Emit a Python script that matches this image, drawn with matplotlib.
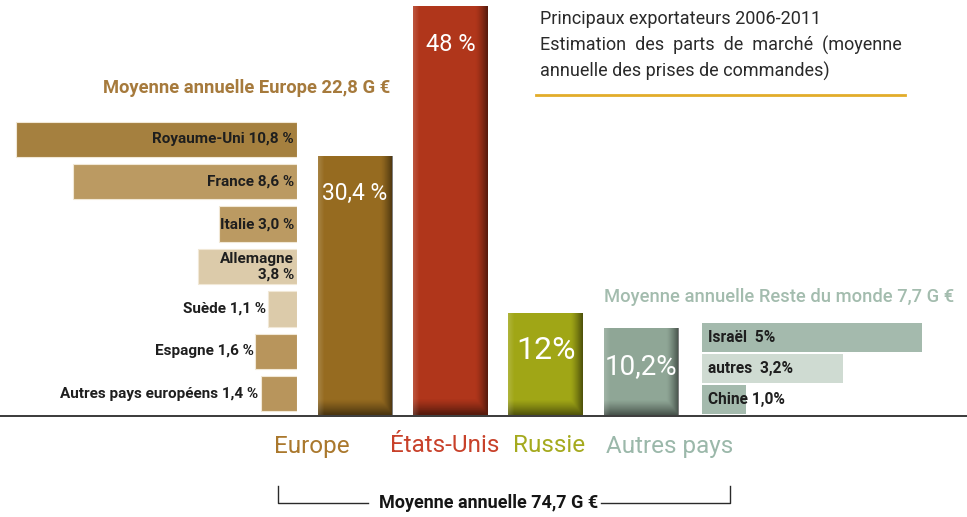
import numpy as np
import matplotlib
matplotlib.use("Agg")
import matplotlib.pyplot as plt
from matplotlib.lines import Line2D

# ---------------- data ----------------
main_categories = ["Europe", "États-Unis", "Russie", "Autres pays"]
main_values = [30.4, 48.0, 12.0, 10.2]
main_labels = ["30,4 %", "48 %", "12%", "10,2%"]

europe_countries = ["Royaume-Uni", "France", "Italie", "Allemagne", "Suède", "Espagne",
                    "Autres pays européens"]
europe_values = [10.8, 8.6, 3.0, 3.8, 1.1, 1.6, 1.4]
europe_labels = ["Royaume-Uni 10,8 %", "France 8,6 %", "Italie 3,0 %", "Allemagne\n3,8 %",
                 "Suède 1,1 %", "Espagne 1,6 %", "Autres pays européens 1,4 %"]

rest_countries = ["Israël", "autres", "Chine"]
rest_values = [5.0, 3.2, 1.0]
rest_labels = ["Israël  5%", "autres  3,2%", "Chine 1,0%"]

title_lines = ["Principaux exportateurs 2006-2011",
               "Estimation  des  parts  de  marché  (moyenne",
               "annuelle des prises de commandes)"]
europe_total = "Moyenne annuelle Europe 22,8 G €"
rest_total = "Moyenne annuelle Reste du monde 7,7 G €"
world_total = "Moyenne annuelle 74,7 G €"

# ---------------- style ----------------
FONT = ["Roboto", "DejaVu Sans"]
plt.rcParams["font.family"] = FONT

W, H = 967, 517
fig = plt.figure(figsize=(W / 100, H / 100), dpi=100)
fig.patch.set_facecolor("white")


def fx(x):
    return x / W


def fy(y):
    return 1 - y / H


def axes_px(left, top, right, bottom):
    return fig.add_axes([fx(left), fy(bottom), (right - left) / W, (bottom - top) / H])


main_colors = ["#966b20", "#b0361b", "#a0a616", "#8fa696"]
main_label_sizes = [16.5, 17, 23, 20]
cat_colors = ["#aa782d", "#c8412a", "#a5aa1e", "#9bb8aa"]
europe_colors = ["#a5803f", "#bb9a62", "#bb9a62", "#dccbaa", "#dccbaa", "#b8955c", "#b8955c"]
rest_colors = ["#a4baad", "#cfdbd2", "#a4baad"]

BASE_Y = 415

# ---------------- main vertical bars ----------------
ax = axes_px(300, 6, 700, BASE_Y)
ax.axis("off")
xpos = np.arange(len(main_categories))
bars = ax.bar(xpos, main_values, width=0.78, color=main_colors, zorder=2)

# soft shading (darker right and bottom edges) clipped to every bar
nx, ny = 60, 160
gx = np.linspace(0, 1, nx)
gy = np.linspace(0, 1, ny)  # 0 = top, 1 = bottom
for b, lab, fs in zip(bars, main_labels, main_label_sizes):
    x0, w = b.get_x(), b.get_width()
    h = b.get_height()
    hpx = h / 48 * (BASE_Y - 6)
    right = np.clip((gx - 0.84) / 0.16, 0, 1) ** 1.3
    left = np.clip((0.08 - gx) / 0.08, 0, 1)
    botfrac = 1 - 15 / max(hpx, 20)
    bottom = np.clip((gy - botfrac) / (1 - botfrac), 0, 1) ** 1.2
    alpha = np.maximum(right[None, :] * 0.5, bottom[:, None] * 0.5)
    img = np.zeros((ny, nx, 4))
    img[..., 3] = alpha
    im = ax.imshow(img, extent=(x0, x0 + w, 0, h), aspect="auto", zorder=3,
                   interpolation="bilinear")
    im.set_clip_path(b)
    hl = np.zeros((ny, nx, 4))
    hl[..., :3] = 1
    hl[..., 3] = left[None, :] * 0.15
    im2 = ax.imshow(hl, extent=(x0, x0 + w, 0, h), aspect="auto", zorder=3,
                    interpolation="bilinear")
    im2.set_clip_path(b)
    ax.annotate(lab, xy=(x0 + w / 2, h), xytext=(0, -38), textcoords="offset pixels",
                ha="center", va="center", color="white", fontsize=fs, zorder=4)
ax.set_xlim(-0.577, 3.619)
ax.set_ylim(0, 48)

# ---------------- Europe breakdown ----------------
axe = axes_px(15, 118, 297, BASE_Y)
axe.set_xlim(10.85, 0)
axe.set_ylim(6.5, -0.5)
axe.axis("off")
ypos = np.arange(len(europe_countries))
ebars = axe.barh(ypos, europe_values, height=0.83, color=europe_colors, left=0,
                 edgecolor="#f1e8d6", linewidth=0.8)
for b, lab, v in zip(ebars, europe_labels, europe_values):
    yc = b.get_y() + b.get_height() / 2
    if v >= 3.0:
        axe.annotate(lab, xy=(0, yc), xytext=(-3, 0), textcoords="offset pixels",
                     ha="right", va="center", fontsize=11, fontweight="bold",
                     color="#1e1e1e", linespacing=1.15)
    else:
        axe.annotate(lab, xy=(v, yc), xytext=(-2, 0), textcoords="offset pixels",
                     ha="right", va="center", fontsize=11, fontweight="bold",
                     color="#1e1e1e")

# ---------------- rest of world breakdown ----------------
axr = axes_px(702, 322, 932, BASE_Y)
axr.set_xlim(0, 5.227)
axr.set_ylim(2.5, -0.5)
axr.axis("off")
rpos = np.arange(len(rest_countries))
rbars = axr.barh(rpos, rest_values, height=0.93, color=rest_colors)
for b, lab in zip(rbars, rest_labels):
    yc = b.get_y() + b.get_height() / 2
    axr.annotate(lab, xy=(0, yc), xytext=(6, 0), textcoords="offset pixels",
                 ha="left", va="center", fontsize=11.2, fontweight="bold", color="#1e1e1e")

# ---------------- baseline ----------------
fig.add_artist(Line2D([0, 1], [fy(416), fy(416)], color="#3a3a3a", lw=1.4,
                      transform=fig.transFigure))

# ---------------- category labels ----------------
cat_x = [312, 445, 549, 670]
for name, c, x in zip(main_categories, cat_colors, cat_x):
    fig.text(fx(x), fy(446), name, ha="center", va="center", color=c, fontsize=17.5)

# ---------------- bracket ----------------
for xs, ys in [([278, 278, 368], [486, 503, 503]), ([601, 730, 730], [503, 503, 486])]:
    fig.add_artist(Line2D([fx(v) for v in xs], [fy(v) for v in ys], color="#2a2a2a", lw=1.0,
                          transform=fig.transFigure))
fig.text(fx(489), fy(503), world_total, ha="center", va="center", fontsize=13,
         fontweight="bold", color="#151515")

# ---------------- titles ----------------
for i, t in enumerate(title_lines):
    fig.text(fx(540), fy(19 + 26 * i), t, ha="left", va="center", fontsize=13,
             color="#2a2a2a")
fig.add_artist(Line2D([fx(536), fx(905)], [fy(95), fy(95)], color="#e2ac2a", lw=2,
                      transform=fig.transFigure))
fig.text(fx(103), fy(88), europe_total, ha="left", va="center", fontsize=13.2,
         fontweight="bold", color="#a67a3c")
fig.text(fx(604), fy(297), rest_total, ha="left", va="center", fontsize=13.2,
         fontweight="medium", color="#a3bcae")

fig.savefig("out.png", dpi=100, facecolor="white")
